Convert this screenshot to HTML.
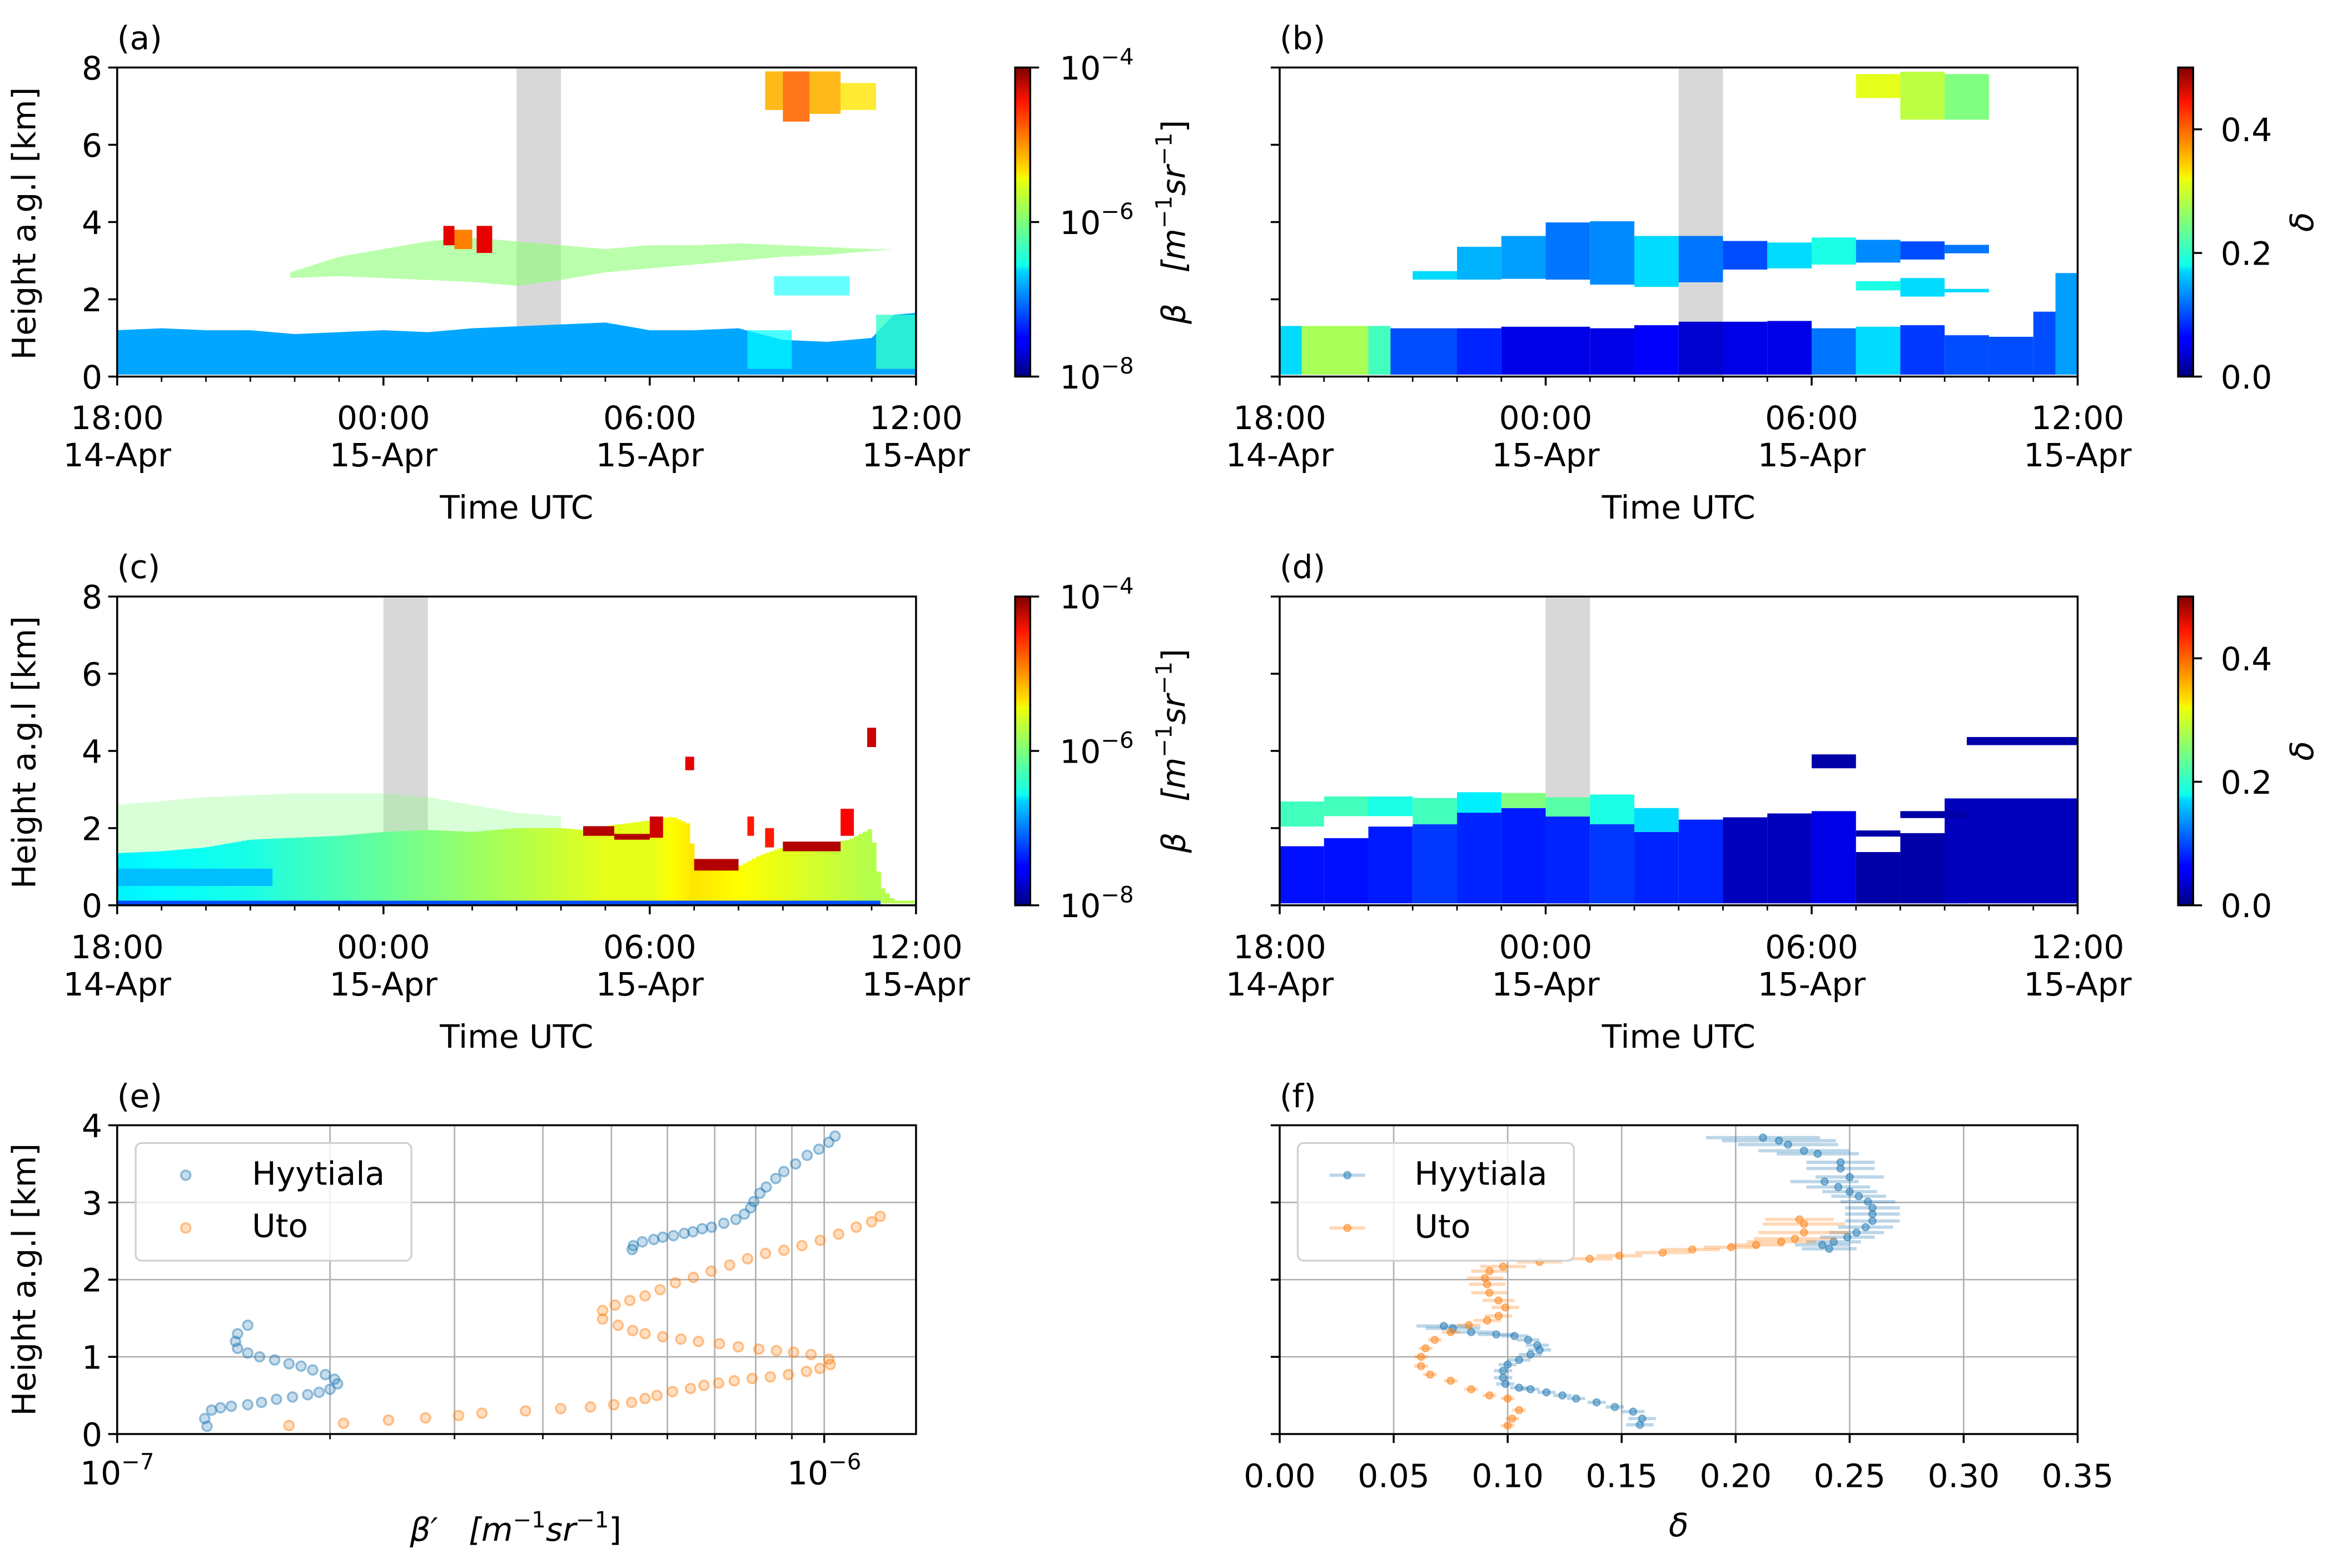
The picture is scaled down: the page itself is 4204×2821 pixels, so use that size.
<!DOCTYPE html>
<html><head><meta charset="utf-8">
<style>
html,body{margin:0;padding:0;background:#fff;}
svg{display:block;}
text{font-family:"DejaVu Sans","Liberation Sans",sans-serif;fill:#000;}
</style></head>
<body>
<svg id="fig" xmlns="http://www.w3.org/2000/svg" width="4204" height="2821" viewBox="0 0 1568 1052.2">
<defs>
<linearGradient id="jetGrad" x1="0" y1="1" x2="0" y2="0">
<stop offset="0" stop-color="#000080"/><stop offset="0.11" stop-color="#0000ff"/><stop offset="0.125" stop-color="#0000ff"/>
<stop offset="0.34" stop-color="#00d4ff"/><stop offset="0.36" stop-color="#0fffee"/><stop offset="0.5" stop-color="#7dff7a"/>
<stop offset="0.64" stop-color="#eeff09"/><stop offset="0.66" stop-color="#ffe600"/><stop offset="0.89" stop-color="#ff1400"/>
<stop offset="1" stop-color="#800000"/></linearGradient>
</defs>
<g id="root"></g>
</svg>
<script>
// ---------- Panel (a) data (hours since 18:00 UTC, km, log10 beta) ----------
const blTimesA=[0,1,2,3,4,5,6,7,8,9,10,11,12,13,14,15,16,17,17.5,18];
const blTopsA=[1.2,1.25,1.2,1.2,1.1,1.15,1.2,1.15,1.25,1.3,1.35,1.4,1.2,1.2,1.25,0.95,0.9,1.0,1.6,1.65];
const blLogA=-6.85;
const layTimesA=[3.9,5,6,7,8,9,10,11,12,13,14,15,16,17,17.5];
const layBotA=[2.55,2.6,2.55,2.5,2.45,2.35,2.5,2.7,2.8,2.9,3.0,3.1,3.15,3.25,3.3];
const layTopA=[2.7,3.1,3.3,3.5,3.6,3.5,3.4,3.3,3.4,3.4,3.45,3.4,3.35,3.3,3.3];
const layLogA=-5.95;
const blobT0A=[7.35,7.6,8.1,14.6,15.0,15.6,16.3,14.8,14.2,17.1];
const blobT1A=[7.6,8.0,8.45,15.0,15.6,16.3,17.1,16.5,15.2,18];
const blobH0A=[3.4,3.3,3.2,6.9,6.6,6.8,6.9,2.1,0.2,0.2];
const blobH1A=[3.9,3.8,3.9,7.9,7.9,7.9,7.6,2.6,1.2,1.6];
const blobLogA=[-4.4,-5.0,-4.4,-5.2,-4.9,-5.2,-5.4,-6.5,-6.5,-6.3];
const blobOpA=[1,1,1,0.9,0.9,0.9,0.8,0.6,0.7,0.8];
// ---------- Panel (c) data ----------
const blTimesC=[0,1,2,3,4,5,6,7,8,9,10,10.5,11,12,12.5,12.9,13.0,13.5,14,14.5,15,15.5,16,16.5,17,17.2,17.5,18];
const blTopsC=[1.35,1.4,1.5,1.7,1.75,1.8,1.9,1.95,1.9,2.0,2.0,1.95,2.05,2.2,2.3,2.1,1.1,1.0,1.0,1.3,1.5,1.55,1.6,1.7,2.0,0.5,0.12,0.12];
const blLogTimesC=[0,1,2,3,4,5,6,7,8,9,10,11,12,13,14,15,16,17,18];
const blLogC=[-6.55,-6.5,-6.45,-6.4,-6.3,-6.2,-6.1,-6.0,-5.9,-5.8,-5.7,-5.6,-5.6,-5.4,-5.5,-5.6,-5.7,-5.8,-5.8];
const noiseTimesC=[0,1,2,3,4,5,6,7,8,9,10];
const noiseTopC=[2.6,2.7,2.8,2.85,2.9,2.9,2.9,2.8,2.6,2.4,2.3];
const cloudT0C=[10.5,11.2,12.0,12.8,13.0,15.0,16.3,16.9,14.6,14.2,0];
const cloudT1C=[11.2,12.0,12.3,13.0,14.0,16.3,16.6,17.1,14.8,14.35,3.5];
const cloudH0C=[1.8,1.7,1.75,3.5,0.9,1.4,1.8,4.1,1.5,1.8,0.5];
const cloudH1C=[2.05,1.85,2.3,3.85,1.2,1.65,2.5,4.6,2.0,2.3,0.95];
const cloudLogC=[-4.2,-4.2,-4.3,-4.4,-4.2,-4.2,-4.5,-4.3,-4.6,-4.6,-6.75];
// ---------- Panel (b) data ----------
const colT0B=[0,0.5,2,2.5,4,5,6,7,8,9,10,11,12,13,14,15,16,17,17.5, 3,4,5,6,7,8,9,10,11,12,13,14,15, 13,14,15, 13,14,15];
const colT1B=[0.5,2,2.5,4,5,6,7,8,9,10,11,12,13,14,15,16,17,17.5,18, 4,5,6,7,8,9,10,11,12,13,14,15,16, 14,15,16, 14,15,16];
const colH0B=[0,0,0,0,0,0,0,0,0,0,0,0,0,0,0,0,0,0,0, 2.51,2.51,2.53,2.51,2.38,2.32,2.44,2.77,2.8,2.9,2.95,3.03,3.19, 2.23,2.07,2.18, 7.21,6.65,6.65];
const colH1B=[1.31,1.31,1.31,1.25,1.25,1.29,1.29,1.25,1.33,1.42,1.42,1.44,1.25,1.29,1.33,1.07,1.03,1.68,2.68, 2.73,3.36,3.64,3.99,4.02,3.64,3.64,3.51,3.47,3.6,3.54,3.5,3.41, 2.47,2.55,2.27, 7.83,7.89,7.83];
const colDB=[0.17,0.27,0.22,0.1,0.08,0.05,0.05,0.05,0.06,0.04,0.05,0.05,0.12,0.17,0.09,0.1,0.1,0.1,0.14, 0.17,0.15,0.14,0.12,0.13,0.17,0.12,0.1,0.17,0.2,0.13,0.1,0.12, 0.2,0.17,0.17, 0.3,0.28,0.25];
// ---------- Panel (d) data ----------
const colT0D=[0,1,2,3,4,5,6,7,8,9,10,11,12,13,14,15, 0,1,2,3,4,5,6,7,8, 12,13,14,15.5, 14];
const colT1D=[1,2,3,4,5,6,7,8,9,10,11,12,13,14,15.5,18, 1,2,3,4,5,6,7,8,9, 13,14,15.5,18, 15.5];
const colH0D=[0,0,0,0,0,0,0,0,0,0,0,0,0,0,0,0, 2.04,2.31,2.31,2.1,2.4,2.52,2.3,2.1,1.9, 3.55,1.78,2.26,4.15, 0];
const colH1D=[1.53,1.74,2.04,2.1,2.4,2.52,2.3,2.1,1.9,2.22,2.28,2.38,2.44,1.38,1.87,2.77, 2.69,2.82,2.82,2.78,2.93,2.91,2.8,2.87,2.52, 3.91,1.94,2.44,4.36, 0];
const colDD=[0.07,0.07,0.075,0.09,0.08,0.075,0.08,0.09,0.08,0.08,0.03,0.03,0.05,0.02,0.02,0.03, 0.22,0.22,0.2,0.22,0.18,0.25,0.23,0.2,0.17, 0.02,0.02,0.02,0.02, 0.02];
// ---------- Panel (e) data ----------
const hyyBeta=[1.34,1.33,1.36,1.40,1.45,1.53,1.60,1.68,1.77,1.86,1.93,2.0,2.05,2.03,1.97,1.89,1.82,1.75,1.67,1.59,1.53,1.48,1.47,1.48,1.53,
5.35,5.37,5.53,5.74,5.91,6.12,6.34,6.52,6.72,6.93,7.21,7.50,7.71,7.87,7.95,8.11,8.28,8.54,8.77,9.11,9.46,9.83,10.15,10.36];
const hyyH=[0.1,0.2,0.31,0.34,0.36,0.38,0.41,0.45,0.48,0.51,0.54,0.58,0.65,0.71,0.77,0.83,0.88,0.91,0.96,1.0,1.05,1.11,1.2,1.3,1.41,
2.39,2.44,2.49,2.52,2.55,2.57,2.6,2.62,2.66,2.68,2.73,2.78,2.85,2.93,3.01,3.12,3.2,3.31,3.4,3.5,3.61,3.69,3.78,3.86];
const utoBeta=[1.75,2.09,2.42,2.73,3.04,3.28,3.78,4.24,4.67,5.04,5.34,5.58,5.80,6.10,6.47,6.76,7.09,7.46,7.91,8.39,8.90,9.44,9.86,10.2,10.15,9.58,9.05,8.56,8.08,7.56,7.11,6.64,6.27,5.91,5.58,5.36,5.11,4.86,4.86,5.06,5.31,5.58,5.86,6.16,6.53,6.92,7.35,7.79,8.26,8.77,9.30,9.87,10.48,11.1,11.67,12.0];
const utoH=[0.11,0.14,0.18,0.21,0.24,0.27,0.3,0.33,0.35,0.38,0.41,0.46,0.5,0.55,0.59,0.63,0.66,0.69,0.72,0.74,0.77,0.81,0.85,0.9,0.97,1.03,1.06,1.08,1.1,1.13,1.17,1.2,1.23,1.26,1.3,1.34,1.41,1.49,1.6,1.67,1.73,1.79,1.87,1.96,2.03,2.11,2.19,2.27,2.34,2.38,2.44,2.51,2.59,2.68,2.75,2.82];
// ---------- Panel (f) data ----------
const hyyDelta=[0.158,0.159,0.155,0.147,0.139,0.130,0.124,0.117,0.110,0.105,0.099,0.098,0.098,0.100,0.105,0.110,0.114,0.113,0.109,0.103,0.095,0.084,0.076,0.072,
0.241,0.238,0.243,0.249,0.253,0.257,0.260,0.260,0.260,0.258,0.254,0.250,0.245,0.239,0.250,0.246,0.246,0.236,0.230,0.223,0.219,0.212];
const hyyHf=[0.12,0.2,0.29,0.35,0.41,0.46,0.5,0.54,0.58,0.6,0.65,0.73,0.82,0.9,0.96,1.03,1.09,1.15,1.22,1.27,1.29,1.32,1.37,1.4,
2.4,2.45,2.49,2.55,2.61,2.68,2.76,2.85,2.93,3.01,3.08,3.14,3.2,3.27,3.33,3.44,3.52,3.63,3.67,3.75,3.8,3.84];
const hyyErr=[0.006,0.006,0.005,0.004,0.004,0.004,0.004,0.004,0.004,0.004,0.004,0.004,0.004,0.004,0.005,0.005,0.005,0.005,0.005,0.006,0.008,0.01,0.012,0.012,
0.012,0.012,0.012,0.012,0.012,0.012,0.012,0.012,0.012,0.012,0.012,0.012,0.014,0.015,0.015,0.015,0.015,0.018,0.02,0.022,0.025,0.025];
const utoDelta=[0.100,0.102,0.105,0.100,0.092,0.084,0.075,0.066,0.062,0.062,0.064,0.068,0.075,0.083,0.091,0.096,0.099,0.096,0.092,0.091,0.090,0.092,0.098,0.114,0.136,0.149,0.168,0.181,0.198,0.209,0.220,0.226,0.230,0.230,0.228];
const utoHf=[0.11,0.2,0.31,0.46,0.5,0.58,0.69,0.77,0.88,1.0,1.11,1.22,1.32,1.41,1.47,1.53,1.64,1.73,1.83,1.94,2.02,2.11,2.17,2.23,2.27,2.31,2.35,2.39,2.42,2.45,2.49,2.53,2.61,2.72,2.78];
const utoErr=[0.003,0.003,0.003,0.003,0.003,0.003,0.003,0.003,0.003,0.003,0.003,0.003,0.004,0.005,0.006,0.006,0.006,0.007,0.008,0.008,0.008,0.008,0.01,0.01,0.01,0.01,0.012,0.012,0.012,0.012,0.015,0.018,0.02,0.018,0.015];
const timeTickLabels=[["18:00","14-Apr"],["00:00","15-Apr"],["06:00","15-Apr"],["12:00","15-Apr"]];
const fTickLabels=["0.00","0.05","0.10","0.15","0.20","0.25","0.30","0.35"];

const NS="http://www.w3.org/2000/svg";
const root=document.getElementById('root');
const FS=21.7;
function mk(tag,attrs,parent){const e=document.createElementNS(NS,tag);for(const k in attrs)e.setAttribute(k,attrs[k]);(parent||root).appendChild(e);return e;}
function txt(s,x,y,anchor,parent,size){const t=mk('text',{x:x,y:y,'text-anchor':anchor||'start','font-size':size||FS},parent);t.textContent=s;return t;}
function clamp(v){return Math.max(0,Math.min(1,v));}
function jet(t){t=clamp(t);const r=clamp(1.5-Math.abs(4*t-3)),g=clamp(1.5-Math.abs(4*t-2)),b=clamp(1.5-Math.abs(4*t-1));
 return 'rgb('+Math.round(r*255)+','+Math.round(g*255)+','+Math.round(b*255)+')';}
function interp(xs,ys,x){if(x<=xs[0])return ys[0];for(let i=1;i<xs.length;i++){if(x<=xs[i]){const f=(x-xs[i-1])/(xs[i]-xs[i-1]);return ys[i-1]+f*(ys[i]-ys[i-1]);}}return ys[ys.length-1];}

const X0L=78.6,X1L=614.6,X0R=858.6,X1R=1394;
const rowY=[[45.3,252.7],[400.3,607.5],[755.1,962.3]];
function timeAxes(x0,x1,y0,y1){return {x:h=>x0+h/18*(x1-x0),y:k=>y1-k/8*(y1-y0)};}

function heatFrame(g,x0,x1,y0,y1,label,showY){
  for(let h=0;h<=18;h++){const ax=timeAxes(x0,x1,y0,y1);const xx=ax.x(h);const major=h%6===0;
    mk('line',{x1:xx,x2:xx,y1:y1,y2:y1+(major?6:3.5),stroke:'#000','stroke-width':major?1.3:1},g);}
  timeTickLabels.forEach((l,i)=>{const xx=x0+i*6/18*(x1-x0);
    const t1=txt(l[0],xx,288,'middle',g);
    const t2=txt(l[1],xx,313,'middle',g);
    if(y0>300){t1.setAttribute('y',288+355);t2.setAttribute('y',313+355);} });
  const xl=txt('Time UTC',(x0+x1)/2,y0>300?703:348,'middle',g);
  
  for(let k=0;k<=8;k+=2){const yy=y1-k/8*(y1-y0);mk('line',{x1:x0-6,x2:x0,y1:yy,y2:yy,stroke:'#000','stroke-width':1.3},g);
    if(showY){const tl=txt(String(k),x0-10,yy+8,'end',g);}}
  if(showY){const yl=txt('Height a.g.l [km]',0,0,'middle',g);yl.setAttribute('transform','translate('+(x0-55)+','+((y0+y1)/2+1)+') rotate(-90)');
    }
  const fr=mk('rect',{x:x0,y:y0,width:x1-x0,height:y1-y0,fill:'none',stroke:'#000','stroke-width':1.3},g);
  
  const pl=txt(label,x0,33+(y0-45.3),'start',g);
}
function band(g,ax,h0,h1,y0,y1){const r=mk('rect',{x:ax.x(h0),y:y0,width:ax.x(h1)-ax.x(h0),height:y1-y0,fill:'#d8d8d8'},g);
  }
function logT(lb){return (lb+8)/4;}

function betaColorbar(g,y0,y1){
  const cx=681.1,cw=10.1;
  const r=mk('rect',{x:cx,y:y0,width:cw,height:y1-y0,fill:'url(#jetGrad)',stroke:'#000','stroke-width':1.3},g);
  
  [['4',0],['6',0.5],['8',1]].forEach(p=>{const yy=y0+p[1]*(y1-y0);mk('line',{x1:cx+cw,x2:cx+cw+6,y1:yy,y2:yy,stroke:'#000','stroke-width':1.3},g);
    const t=txt('10',711,yy+8,'start',g);const s=mk('tspan',{dy:-10,'font-size':15},t);s.textContent='\u2212'+p[0];
    });
  const lab=txt('',0,0,'middle',g);lab.setAttribute('transform','translate(795,'+((y0+y1)/2)+') rotate(-90)');
  
  const a=mk('tspan',{'font-style':'italic'},lab);a.textContent='\u03B2\u00A0\u00A0\u00A0[m';
  const b=mk('tspan',{dy:-9,'font-size':15},lab);b.textContent='\u22121';
  const c=mk('tspan',{dy:9,'font-style':'italic'},lab);c.textContent='sr';
  const d=mk('tspan',{dy:-9,'font-size':15},lab);d.textContent='\u22121';
  const e=mk('tspan',{dy:9},lab);e.textContent=']';
}
function deltaColorbar(g,y0,y1){
  const cx=1461.4,cw=10.1;
  const r=mk('rect',{x:cx,y:y0,width:cw,height:y1-y0,fill:'url(#jetGrad)',stroke:'#000','stroke-width':1.3},g);
  
  [0,0.2,0.4].forEach(v=>{const yy=y1-v/0.5*(y1-y0);mk('line',{x1:cx+cw,x2:cx+cw+6,y1:yy,y2:yy,stroke:'#000','stroke-width':1.3},g);
    const t=txt(v.toFixed(1),1490,yy+8,'start',g);});
  const lab=txt('\u03B4',0,0,'middle',g);lab.setAttribute('font-style','italic');lab.setAttribute('transform','translate(1552,'+((y0+y1)/2)+') rotate(-90)');
  
}

// ===== Panel (a) =====
(function(){
 const g=mk('g',{});
 const [y0,y1]=rowY[0];const ax=timeAxes(X0L,X1L,y0,y1);
 band(g,ax,9,10,y0,y1);
 let d='M'+ax.x(0)+','+ax.y(0.05);
 blTimesA.forEach((t,i)=>{d+=' L'+ax.x(t)+','+ax.y(blTopsA[i]);});
 d+=' L'+ax.x(18)+','+ax.y(0.05)+'Z';
 const bl=mk('path',{d:d,fill:jet(logT(blLogA))},g);
 let p='M'+ax.x(layTimesA[0])+','+ax.y(layBotA[0]);
 layTimesA.forEach((t,i)=>{p+=' L'+ax.x(t)+','+ax.y(layTopA[i]);});
 for(let i=layTimesA.length-1;i>=0;i--)p+=' L'+ax.x(layTimesA[i])+','+ax.y(layBotA[i]);
 const la=mk('path',{d:p+'Z',fill:jet(logT(layLogA)),opacity:0.6},g);
 blobT0A.forEach((t,i)=>{const r=mk('rect',{x:ax.x(t),y:ax.y(blobH1A[i]),width:ax.x(blobT1A[i])-ax.x(t),height:ax.y(blobH0A[i])-ax.y(blobH1A[i]),fill:jet(logT(blobLogA[i])),opacity:blobOpA[i]},g);
   });
 heatFrame(g,X0L,X1L,y0,y1,'(a)',true);
 betaColorbar(g,y0,y1);
})();
// ===== Panel (c) =====
(function(){
 const g=mk('g',{});
 const [y0,y1]=rowY[1];const ax=timeAxes(X0L,X1L,y0,y1);
 band(g,ax,6,7,y0,y1);
 let p='M'+ax.x(0)+','+ax.y(1.3);
 noiseTimesC.forEach((t,i)=>{p+=' L'+ax.x(t)+','+ax.y(noiseTopC[i]);});
 p+=' L'+ax.x(10)+','+ax.y(1.9)+' L'+ax.x(0)+','+ax.y(1.3)+'Z';
 const nz=mk('path',{d:p,fill:'#7dff7a',opacity:0.3},g);
 const step=0.1;
 for(let t=0;t<18-1e-6;t+=step){const top=interp(blTimesC,blTopsC,t+step/2);const lb=interp(blLogTimesC,blLogC,t+step/2);
   const r=mk('rect',{x:ax.x(t),y:ax.y(top),width:ax.x(t+step)-ax.x(t)+0.3,height:ax.y(0.05)-ax.y(top),fill:jet(logT(lb))},g);
   }
 const bs=mk('rect',{x:ax.x(0),y:ax.y(0.12),width:ax.x(17.2)-ax.x(0),height:ax.y(0.02)-ax.y(0.12),fill:jet(logT(-7.2))},g);
 
 cloudT0C.forEach((t,i)=>{const r=mk('rect',{x:ax.x(t),y:ax.y(cloudH1C[i]),width:ax.x(cloudT1C[i])-ax.x(t),height:ax.y(cloudH0C[i])-ax.y(cloudH1C[i]),fill:jet(logT(cloudLogC[i]))},g);
   });
 heatFrame(g,X0L,X1L,y0,y1,'(c)',true);
 betaColorbar(g,y0,y1);
})();
function deltaPanel(name,label,row,t0,t1,h0,h1,dv,bandStart){
 const g=mk('g',{});
 const [y0,y1]=rowY[row];const ax=timeAxes(X0R,X1R,y0,y1);
 band(g,ax,bandStart,bandStart+1,y0,y1);
 t0.forEach((t,i)=>{if(h1[i]<=h0[i])return;
   const bot=Math.max(h0[i],0.05);
   const r=mk('rect',{x:ax.x(t),y:ax.y(h1[i]),width:ax.x(t1[i])-ax.x(t),height:ax.y(bot)-ax.y(h1[i]),fill:jet(dv[i]/0.5)},g);
   });
 heatFrame(g,X0R,X1R,y0,y1,label,false);
 deltaColorbar(g,y0,y1);
}
deltaPanel('panel-b','(b)',0,colT0B,colT1B,colH0B,colH1B,colDB,9);
deltaPanel('panel-d','(d)',1,colT0D,colT1D,colH0D,colH1D,colDD,6);

// ===== Panel (e) =====
(function(){
 const g=mk('g',{});
 const [y0,y1]=rowY[2];const x0=X0L,x1=X1L;const dec=553.0-78.6;
 const xs=v=>x0+Math.log10(v)*dec;
 const ys=k=>y1-k/4*(y1-y0);
 for(let m=2;m<=10;m++){const xx=xs(m);mk('line',{x1:xx,x2:xx,y1:y0,y2:y1,stroke:'#b0b0b0','stroke-width':1},g);
   mk('line',{x1:xx,x2:xx,y1:y1,y2:y1+(m===10?6:3.5),stroke:'#000','stroke-width':m===10?1.3:1},g);}
 for(let k=1;k<=3;k++){mk('line',{x1:x0,x2:x1,y1:ys(k),y2:ys(k),stroke:'#b0b0b0','stroke-width':1},g);}
 for(let k=0;k<=4;k++){mk('line',{x1:x0-6,x2:x0,y1:ys(k),y2:ys(k),stroke:'#000','stroke-width':1.3},g);
   const t=txt(String(k),x0-10,ys(k)+8,'end',g);}
 mk('line',{x1:x0,x2:x0,y1:y1,y2:y1+6,stroke:'#000','stroke-width':1.3},g);
 [[1,'7'],[10,'6']].forEach(p=>{const t=txt('10',xs(p[0]),996,'middle',g);const s=mk('tspan',{dy:-10,'font-size':15},t);s.textContent='\u2212'+p[1];
   });
 function pts(bv,hv,col,nm){bv.forEach((b,i)=>{const c=mk('circle',{cx:xs(b),cy:ys(hv[i]),r:3.2,fill:col,'fill-opacity':0.25,stroke:col,'stroke-opacity':0.45,'stroke-width':1.3},g);
   });}
 pts(hyyBeta,hyyH,'#1f77b4','hyytiala-point');pts(utoBeta,utoH,'#ff7f0e','uto-point');
 const fr=mk('rect',{x:x0,y:y0,width:x1-x0,height:y1-y0,fill:'none',stroke:'#000','stroke-width':1.3},g);
 const yl=txt('Height a.g.l [km]',0,0,'middle',g);yl.setAttribute('transform','translate('+(x0-55)+','+((y0+y1)/2)+') rotate(-90)');
 
 const xl=txt('',346,1034,'middle',g);
 const a=mk('tspan',{'font-style':'italic'},xl);a.textContent='\u03B2\u2032\u00A0\u00A0\u00A0[m';
 const b=mk('tspan',{dy:-9,'font-size':15},xl);b.textContent='\u22121';
 const c=mk('tspan',{dy:9,'font-style':'italic'},xl);c.textContent='sr';
 const d=mk('tspan',{dy:-9,'font-size':15},xl);d.textContent='\u22121';
 const e=mk('tspan',{dy:9},xl);e.textContent=']';
 const pl=txt('(e)',x0,743,'start',g);
 const lg=mk('g',{},g);
 mk('rect',{x:91,y:767,width:185,height:79,rx:4,fill:'#fff','fill-opacity':0.8,stroke:'#d0d0d0','stroke-width':1.2},lg);
 const m1=mk('circle',{cx:124.6,cy:788.6,r:3.2,fill:'#1f77b4','fill-opacity':0.25,stroke:'#1f77b4','stroke-opacity':0.45,'stroke-width':1.3},lg);
 
 const l1=txt('Hyytiala',169,795,'start',lg);
 const m2=mk('circle',{cx:124.6,cy:824,r:3.2,fill:'#ff7f0e','fill-opacity':0.25,stroke:'#ff7f0e','stroke-opacity':0.45,'stroke-width':1.3},lg);
 
 const l2=txt('Uto',169,830,'start',lg);
})();
// ===== Panel (f) =====
(function(){
 const g=mk('g',{});
 const [y0,y1]=rowY[2];const x0=X0R,x1=X1R;
 const xs=v=>x0+v/0.35*(x1-x0);const ys=k=>y1-k/4*(y1-y0);
 fTickLabels.forEach((l,i)=>{const v=i*0.05;const xx=xs(v);
   if(i>0&&i<7)mk('line',{x1:xx,x2:xx,y1:y0,y2:y1,stroke:'#b0b0b0','stroke-width':1},g);
   mk('line',{x1:xx,x2:xx,y1:y1,y2:y1+6,stroke:'#000','stroke-width':1.3},g);
   const t=txt(l,xx,998,'middle',g);});
 for(let k=1;k<=3;k++)mk('line',{x1:x0,x2:x1,y1:ys(k),y2:ys(k),stroke:'#b0b0b0','stroke-width':1},g);
 for(let k=0;k<=4;k++)mk('line',{x1:x0-6,x2:x0,y1:ys(k),y2:ys(k),stroke:'#000','stroke-width':1.3},g);
 function series(dv,hv,ev,col,nm){
   dv.forEach((v,i)=>{const l=mk('line',{x1:xs(v-ev[i]),x2:xs(v+ev[i]),y1:ys(hv[i]),y2:ys(hv[i]),stroke:col,'stroke-opacity':0.3,'stroke-width':2.2},g);
     });
   dv.forEach((v,i)=>{const c=mk('circle',{cx:xs(v),cy:ys(hv[i]),r:2.3,fill:col,'fill-opacity':0.45,stroke:col,'stroke-opacity':0.5,'stroke-width':1},g);
     });}
 series(hyyDelta,hyyHf,hyyErr,'#1f77b4','hyytiala');series(utoDelta,utoHf,utoErr,'#ff7f0e','uto');
 const fr=mk('rect',{x:x0,y:y0,width:x1-x0,height:y1-y0,fill:'none',stroke:'#000','stroke-width':1.3},g);
 const xl=txt('\u03B4',(x0+x1)/2,1031,'middle',g);xl.setAttribute('font-style','italic');
 const pl=txt('(f)',x0,743,'start',g);
 const lg=mk('g',{},g);
 mk('rect',{x:870.7,y:767,width:185.3,height:79,rx:4,fill:'#fff','fill-opacity':0.8,stroke:'#d0d0d0','stroke-width':1.2},lg);
 [['#1f77b4',788.6,'Hyytiala','hyytiala'],['#ff7f0e',824,'Uto','uto']].forEach(p=>{
   mk('line',{x1:892,x2:916,y1:p[1],y2:p[1],stroke:p[0],'stroke-opacity':0.3,'stroke-width':2.2},lg);
   const c=mk('circle',{cx:904,cy:p[1],r:2.3,fill:p[0],'fill-opacity':0.45,stroke:p[0],'stroke-opacity':0.5},lg);
   
   const t=txt(p[2],949,p[1]+6.5,'start',lg);});
})();
</script>
</body></html>
